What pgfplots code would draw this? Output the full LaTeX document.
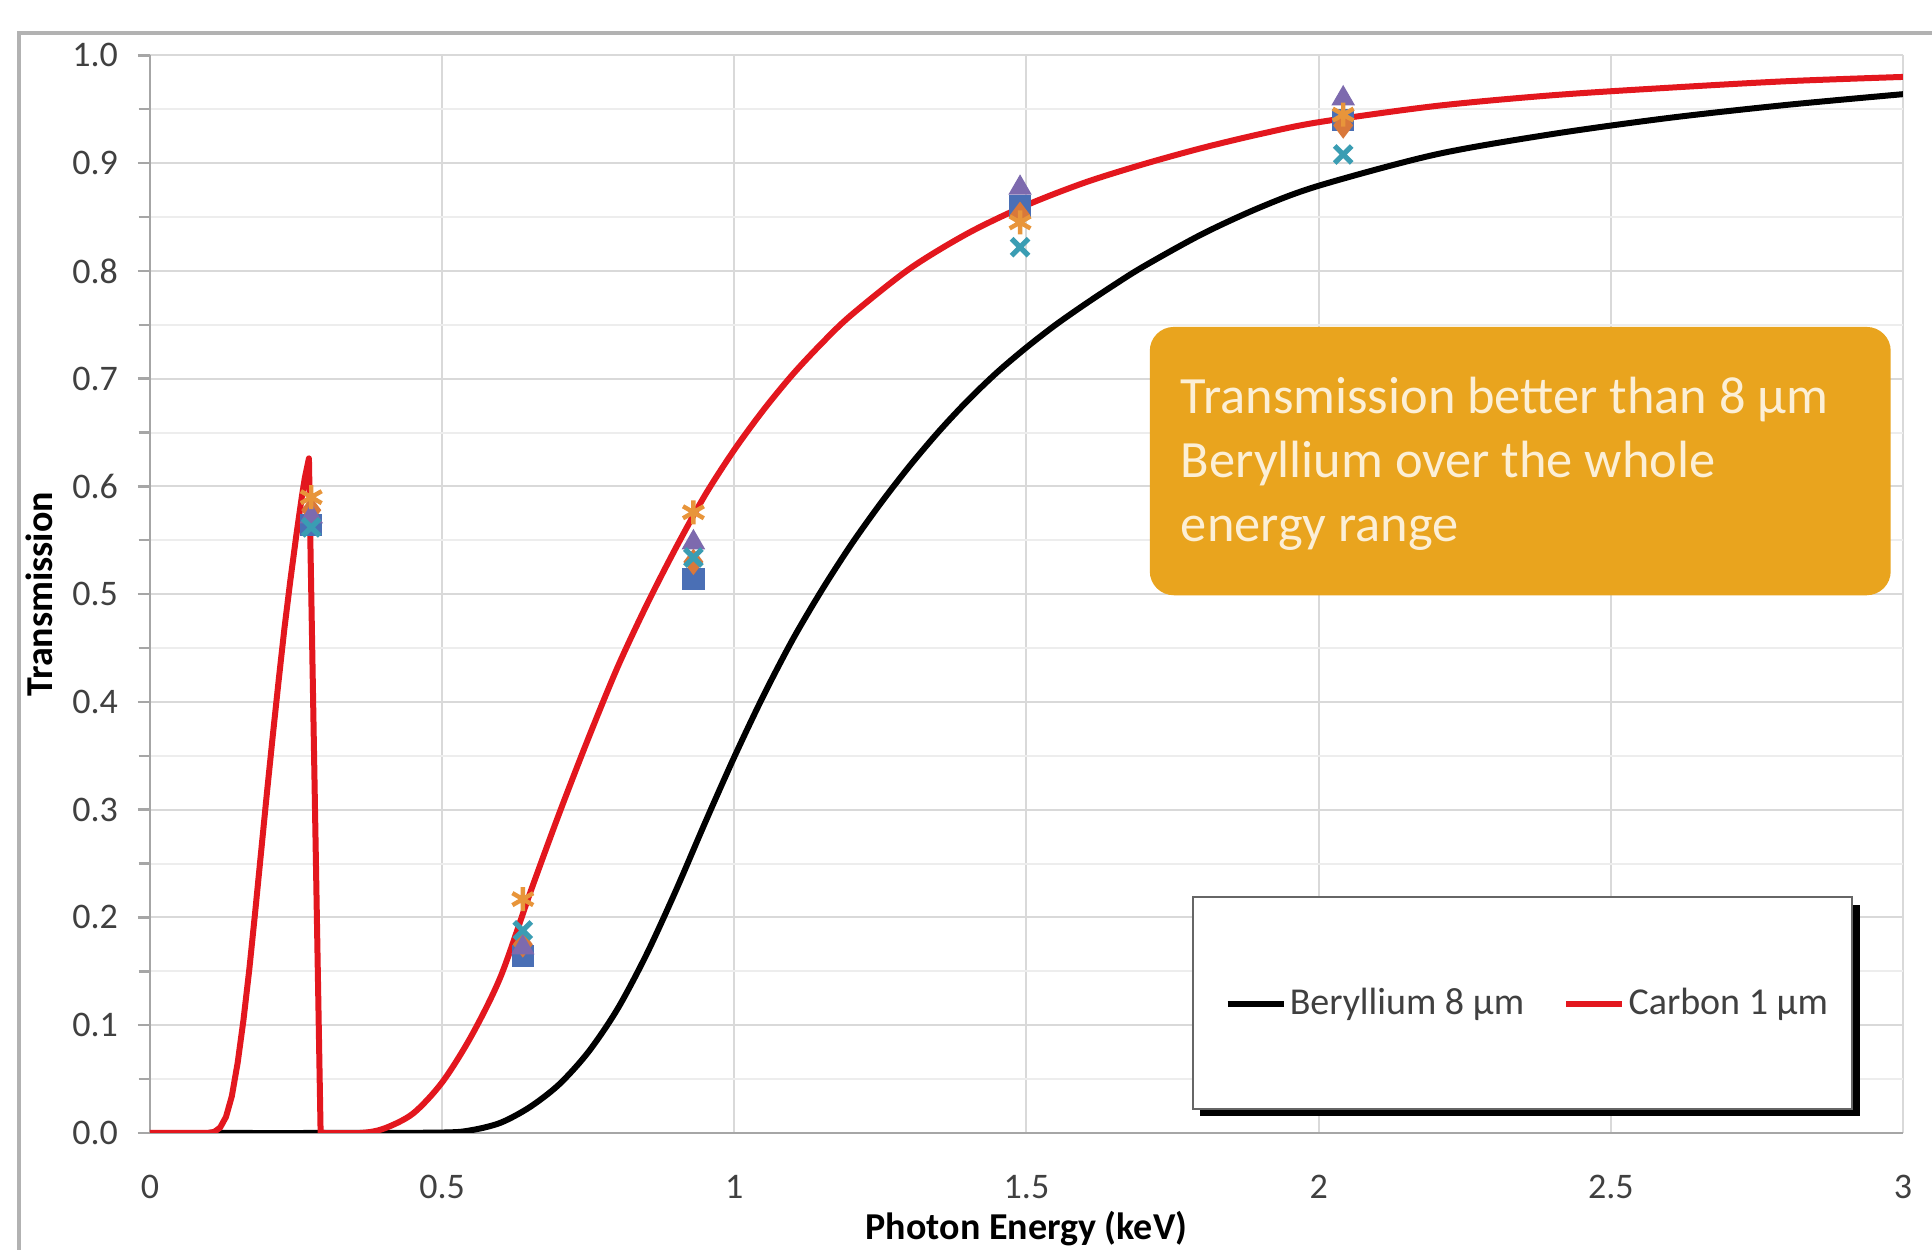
\documentclass[border=0pt]{standalone}
\usepackage{fontspec}
\setmainfont{Carlito}
\usepackage{pgfplots}
\pgfplotsset{compat=1.18}
\definecolor{cred}{HTML}{E3171E}
\definecolor{cgrid}{HTML}{D9D9D9}
\definecolor{cminor}{HTML}{EDEDED}
\definecolor{cbox}{HTML}{E9A41E}
\definecolor{cboxtext}{HTML}{FCEFD6}
\definecolor{csq}{HTML}{4A6FB5}
\definecolor{cdia}{HTML}{D9783A}
\definecolor{ctri}{HTML}{7D6AAE}
\definecolor{cx}{HTML}{3A9DB3}
\definecolor{cast}{HTML}{E8953A}
\definecolor{ctick}{HTML}{404040}
\begin{document}
\begin{tikzpicture}
\useasboundingbox (-37.5pt,-29.25pt) rectangle (445.5pt,283.25pt);
\clip (-37.5pt,-29.25pt) rectangle (445.5pt,283.25pt);
\fill[white] (-37.5pt,-29.25pt) rectangle (445.5pt,283.25pt);
\draw[gray!60, line width=0.8pt] (-32.75pt,-60pt) rectangle (480pt,275pt);
\begin{axis}[
  scale only axis, width=438.25pt, height=269.4pt,
  xmin=0, xmax=3, ymin=0, ymax=1,
  xtick={0,0.5,1,1.5,2,2.5,3},
  xticklabels={0,0.5,1,1.5,2,2.5,3},
  ytick={0,0.1,...,1.0},
  minor ytick={0.05,0.15,...,0.95},
  yticklabel style={/pgf/number format/fixed, /pgf/number format/fixed zerofill, /pgf/number format/precision=1, xshift=-1.5pt},
  /pgf/number format/assume math mode=true,
  ticklabel style={font=\fontsize{9}{10}\selectfont, text=ctick},
  xticklabel style={yshift=-4pt},
  axis x line*=bottom, axis y line*=left,
  axis line style={-, draw=gray!70, line width=0.6pt},
  xtick style={draw=none},
  ytick style={draw=gray!70, line width=0.6pt},
  minor tick style={draw=none},
  tick align=outside, major tick length=3pt,
  grid=both,
  major grid style={cgrid, line width=0.5pt},
  minor grid style={cminor, line width=0.5pt},
  every axis y label/.style={at={(axis description cs:-0.0633,0.5)}, rotate=90, anchor=center, font=\bfseries\fontsize{9.5}{11}\selectfont},
  every axis x label/.style={at={(axis description cs:0.5,-0.0885)}, anchor=center, font=\bfseries\fontsize{9.5}{11}\selectfont},
  ylabel={Transmission},
  xlabel={Photon Energy (keV)},
  legend columns=2,
  legend style={at={(axis description cs:0.786,0.1197)}, anchor=center, draw=none, fill=none,
    font=\fontsize{9.5}{11}\selectfont, text=ctick,
    /tikz/every even column/.append style={column sep=9pt},
    nodes={inner sep=0.8pt}},
  legend image code/.code={\draw[#1] (0pt,0pt) -- (14pt,0pt);},
]
% Beryllium 8 um
\addplot[black, line width=1.5pt, line join=round, smooth, tension=0.5] coordinates {
(0.10,0) (0.30,0) (0.50,0.0004) (0.55,0.0026) (0.60,0.0095) (0.65,0.024) (0.70,0.045)
(0.75,0.075) (0.80,0.115) (0.85,0.166) (0.90,0.225) (0.95,0.288) (1.00,0.349)
(1.05,0.406) (1.1,0.458) (1.15,0.504) (1.2,0.546) (1.25,0.584) (1.3,0.619)
(1.35,0.651) (1.4,0.680) (1.45,0.706) (1.5,0.729) (1.55,0.750) (1.6,0.769)
(1.65,0.787) (1.7,0.804) (1.8,0.834) (1.9,0.859) (2.0,0.879) (2.2,0.908) (2.4,0.927)
(2.6,0.942) (2.8,0.954) (3.0,0.964)
};
\addlegendentry{Beryllium 8 µm}
% Carbon 1 um, below the K edge
\addplot[cred, line width=1.5pt, line join=round, forget plot] coordinates {
(0,0) (0.09,0) (0.10,0.0001) (0.11,0.001) (0.12,0.005) (0.13,0.0148) (0.14,0.034)
(0.15,0.065) (0.16,0.105) (0.17,0.152) (0.18,0.205) (0.19,0.26) (0.20,0.315)
(0.21,0.368) (0.22,0.419) (0.23,0.468) (0.24,0.512) (0.25,0.553) (0.26,0.591)
(0.265,0.608) (0.272,0.626) (0.292,0) (0.30,0)
};
% Carbon 1 um, above the K edge
\addplot[cred, line width=1.5pt, line join=round, smooth, tension=0.5] coordinates {
(0.292,0) (0.36,0) (0.40,0.004) (0.45,0.018)
(0.50,0.047) (0.55,0.09) (0.60,0.145) (0.65,0.222) (0.70,0.296) (0.75,0.366)
(0.80,0.432) (0.85,0.49) (0.90,0.543) (0.95,0.592) (1.00,0.634) (1.05,0.671) (1.1,0.704)
(1.15,0.733) (1.2,0.759) (1.3,0.802) (1.4,0.835) (1.5,0.861) (1.6,0.882) (1.7,0.899)
(1.8,0.914) (1.9,0.927) (2.0,0.938) (2.2,0.953) (2.4,0.963) (2.6,0.970)
(2.8,0.976) (3.0,0.980)
};
\addlegendentry{Carbon 1 µm}
% measured points
\addplot[only marks, forget plot, mark=square*, mark size=2.6pt, color=csq] coordinates {
(0.276,0.564) (0.638,0.164) (0.93,0.514) (1.489,0.86) (2.042,0.94)};
\addplot[only marks, forget plot, mark=diamond*, mark size=3pt, color=cdia] coordinates {
(0.276,0.578) (0.638,0.175) (0.93,0.53) (1.489,0.852) (2.042,0.935)};
\addplot[only marks, forget plot, mark=triangle*, mark size=3pt, color=ctri] coordinates {
(0.276,0.572) (0.638,0.172) (0.93,0.548) (1.489,0.877) (2.042,0.96)};
\addplot[only marks, forget plot, mark=x, mark size=3pt, color=cx, mark options={line width=1.3pt}] coordinates {
(0.276,0.562) (0.638,0.188) (0.93,0.534) (1.489,0.822) (2.042,0.908)};
\addplot[only marks, forget plot, mark=asterisk, mark size=3pt, color=cast, mark options={line width=1.1pt}] coordinates {
(0.276,0.59) (0.638,0.217) (0.93,0.576) (1.489,0.845) (2.042,0.945)};
% text box
\fill[cbox, rounded corners=6pt] (axis cs:1.711,0.499) rectangle (axis cs:2.979,0.748);
\node[anchor=west, align=left, inner sep=0pt, text=cboxtext, font=\fontsize{13.1}{16}\selectfont]
  at (axis cs:1.763,0.621) {Transmission better than 8 µm\\Beryllium over the whole\\energy range};
% legend box with shadow
\fill[black] (axis cs:1.797,0.0153) rectangle (axis cs:2.926,0.212);
\filldraw[fill=white, draw=gray!80!black, line width=0.6pt] (axis cs:1.785,0.0223) rectangle (axis cs:2.913,0.219);
\end{axis}
\end{tikzpicture}
\end{document}
